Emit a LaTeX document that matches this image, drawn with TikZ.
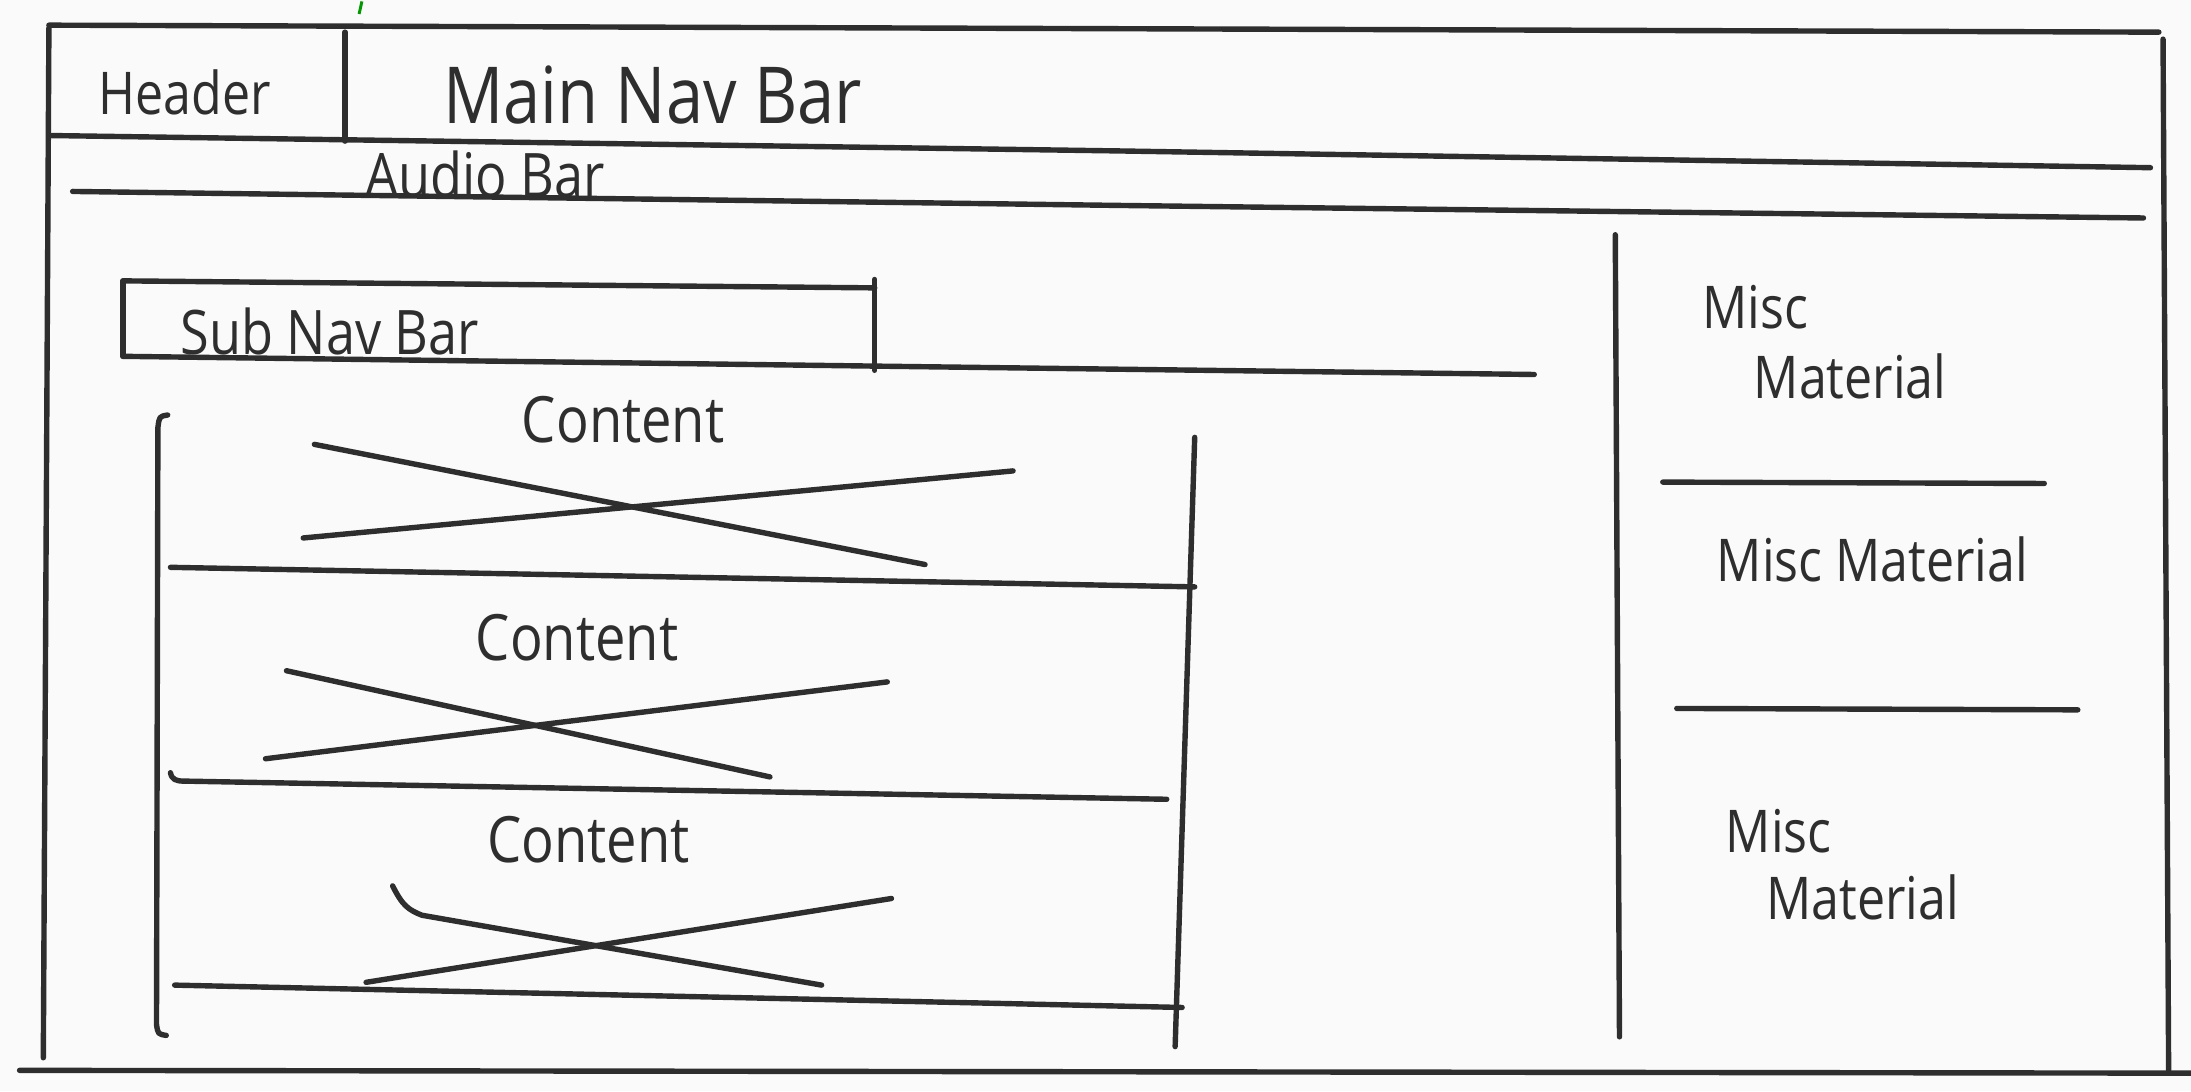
\documentclass[tikz,border=0pt]{standalone}
\usepackage{fontspec}
\setmainfont{Open Sans}
\newfontfamily\handfont[FakeStretch=0.85]{Open Sans}
\definecolor{ink}{HTML}{2E2E2E}
\definecolor{paper}{HTML}{FAFAFA}
\begin{document}
\begin{tikzpicture}[x=0.01cm,y=-0.01cm,
  pen/.style={draw=ink,line width=1.1pt,line cap=round,line join=round},
  lbl/.style={text=ink,inner sep=0pt,font=\handfont\fontsize{#1}{#1}\selectfont},
  lbl/.default=12]
\useasboundingbox[fill=paper] (0,0) rectangle (1568,781);
% small green mark at the top edge
\draw[green!60!black,line width=0.6pt] (257,10) -- (259,1);
% outer frame
\draw[pen] (35,18) -- (1545,23);
\draw[pen] (35,20) -- (31,757);
\draw[pen] (1548,28) -- (1552,766);
\draw[pen] (14,766) -- (1568,768);
% header / main nav
\draw[pen] (247,23) -- (247,101);
\draw[pen] (37,97) -- (800,108) -- (1539,120);
\node[lbl=12] (header) at (132,66) {Header};
\node[lbl=16] (mainnav) at (467,68) {Main Nav Bar};
% audio bar
\draw[pen] (52,137) -- (800,147) -- (1534,156);
\node[lbl=12.5] (audio) at (347,125) {Audio Bar};
% sub nav bar
\draw[pen] (88,201) -- (88,255);
\draw[pen] (88,201) -- (626,206);
\draw[pen] (626,200) -- (626,265);
\draw[pen] (88,255) -- (626,262) -- (1098,268);
\node[lbl=12.5] (subnav) at (236,237) {Sub Nav Bar};
% content column
\draw[pen] (120,297) .. controls (114,298) .. (113,306) -- (112,733) .. controls (113,740) .. (119,741);
\draw[pen] (855,313) -- (841,749);
\draw[pen] (122,406) -- (855,420);
\draw[pen] (122,553) .. controls (123,558) and (126,559) .. (132,559) -- (835,572);
\draw[pen] (125,705) -- (846,721);
% content blocks
\node[lbl=13] (c1) at (446,300) {Content};
\draw[pen] (225,318) -- (662,404);
\draw[pen] (217,385) -- (725,337);
\node[lbl=13] (c2) at (413,456) {Content};
\draw[pen] (205,480) -- (551,556);
\draw[pen] (190,543) -- (635,488);
\node[lbl=13] (c3) at (421,601) {Content};
\draw[pen] (281,634) .. controls (288,648) and (292,651) .. (302,655) -- (588,705);
\draw[pen] (262,703) -- (638,643);
% misc column
\draw[pen] (1156,168) -- (1159,742);
\node[lbl] (m1a) at (1256,220) {Misc};
\node[lbl] (m1b) at (1324,269) {Material};
\draw[pen] (1190,345) -- (1463,346);
\node[lbl] (m2) at (1340,400) {Misc Material};
\draw[pen] (1200,507) -- (1487,508);
\node[lbl] (m3a) at (1273,595) {Misc};
\node[lbl] (m3b) at (1333,642) {Material};
\end{tikzpicture}
\end{document}
